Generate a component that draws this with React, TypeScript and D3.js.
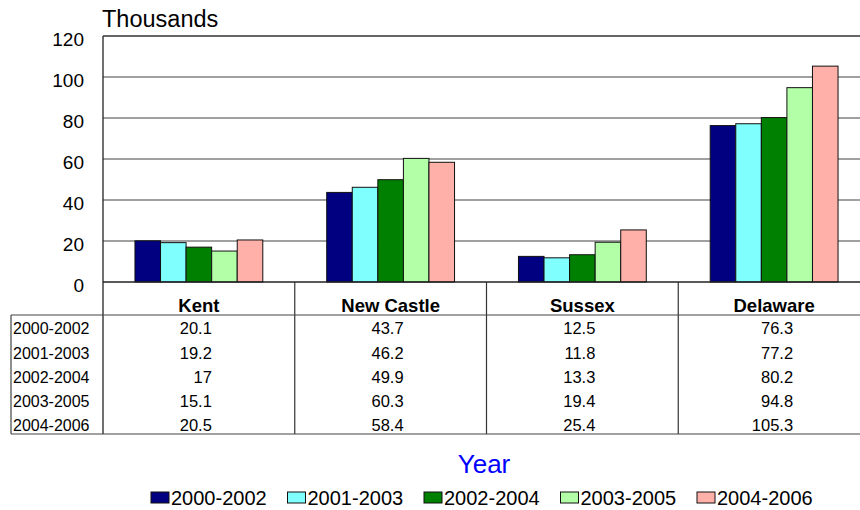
import React from "react";
import * as d3 from "d3";

const categories = ["Kent", "New Castle", "Sussex", "Delaware"];
const seriesNames = ["2000-2002", "2001-2003", "2002-2004", "2003-2005", "2004-2006"];
const s2000_2002 = [20.1, 43.7, 12.5, 76.3];
const s2001_2003 = [19.2, 46.2, 11.8, 77.2];
const s2002_2004 = [17, 49.9, 13.3, 80.2];
const s2003_2005 = [15.1, 60.3, 19.4, 94.8];
const s2004_2006 = [20.5, 58.4, 25.4, 105.3];
const seriesValues = [s2000_2002, s2001_2003, s2002_2004, s2003_2005, s2004_2006];
const seriesColors = ["#000080", "#80ffff", "#008000", "#b3ffa8", "#ffb0a8"];
const yTicks = [0, 20, 40, 60, 80, 100, 120];

const FONT = "'Liberation Sans', Arial, Helvetica, sans-serif";

export default function App() {
  const W = 860, H = 510;
  const left = 103, right = 870, top = 36, bottom = 282;
  const tableLeft = 11;
  const headerBottom = 315;
  const tableBottom = 434;
  const rowBaselines = [334, 358.5, 383, 407, 431];

  const y = d3.scaleLinear().domain([0, 120]).range([bottom, top]);
  const x = d3.scaleBand<string>().domain(categories).range([left, right]).paddingInner(0).paddingOuter(0);
  const xs = d3.scaleBand<string>().domain(seriesNames).range([0, x.bandwidth()]).paddingInner(0).paddingOuter(1.25);

  const legendX = d3.scaleLinear().domain([0, 4]).range([151, 697]);

  return (
    <svg width={W} height={H} style={{ position: "absolute", left: 0, top: 0, background: "#fff" }} fontFamily={FONT}>
      <rect x={0} y={0} width={W} height={H} fill="#fff" />
      {/* gridlines */}
      {yTicks.filter((t) => t !== 0 && t !== 120).map((t) => (
        <line key={t} x1={left} x2={right} y1={y(t)} y2={y(t)} stroke="#808080" strokeWidth={1.3} />
      ))}
      <line x1={left} x2={right} y1={y(120)} y2={y(120)} stroke="#333" strokeWidth={1.5} />
      {/* bars */}
      {seriesNames.map((s, si) =>
        categories.map((c, ci) => {
          const v = seriesValues[si][ci];
          const bx = (x(c) as number) + (xs(s) as number);
          return (
            <rect key={s + c} x={bx} y={y(v)} width={xs.bandwidth()} height={y(0) - y(v)}
              fill={seriesColors[si]} stroke="#111" strokeWidth={1} />
          );
        })
      )}
      {/* y tick labels */}
      {yTicks.map((t) => (
        <text key={t} x={84} y={y(t) + 10} textAnchor="end" fontSize={19} fill="#000">{t}</text>
      ))}
      <text x={102} y={27} fontSize={23.5} fill="#000">Thousands</text>
      {/* axis + frame */}
      <line x1={left} x2={left} y1={top} y2={tableBottom} stroke="#222" strokeWidth={1.3} />
      <line x1={left} x2={right} y1={bottom} y2={bottom} stroke="#222" strokeWidth={1.3} />
      {/* table lines */}
      {categories.slice(1).map((c) => (
        <line key={c} x1={x(c) as number} x2={x(c) as number} y1={bottom} y2={tableBottom} stroke="#333" strokeWidth={1.2} />
      ))}
      <line x1={tableLeft} x2={right} y1={headerBottom} y2={headerBottom} stroke="#444" strokeWidth={1.2} />
      <line x1={tableLeft} x2={right} y1={tableBottom} y2={tableBottom} stroke="#444" strokeWidth={1.2} />
      <line x1={tableLeft} x2={tableLeft} y1={headerBottom} y2={tableBottom} stroke="#444" strokeWidth={1.2} />
      {/* header */}
      {categories.map((c) => (
        <text key={c} x={(x(c) as number) + x.bandwidth() / 2} y={312} textAnchor="middle" fontSize={18.5} fontWeight="bold" fill="#000">{c}</text>
      ))}
      {/* rows */}
      {seriesNames.map((s, si) => (
        <g key={s}>
          <text x={13} y={rowBaselines[si]} fontSize={16} fill="#000">{s}</text>
          {categories.map((c, ci) => {
            const maxChars = d3.max(seriesValues, (arr) => String(arr[ci]).length) as number;
            const ax = (x(c) as number) + x.bandwidth() / 2 + 6 * maxChars - 11;
            return (
              <text key={c} x={ax} y={rowBaselines[si]} textAnchor="end" fontSize={16.5} fill="#000">{String(seriesValues[si][ci])}</text>
            );
          })}
        </g>
      ))}
      {/* axis title */}
      <text x={484} y={473} textAnchor="middle" fontSize={26} fill="#0000ff">Year</text>
      {/* legend */}
      {seriesNames.map((s, si) => (
        <g key={s}>
          <rect x={legendX(si)} y={492} width={18} height={11} fill={seriesColors[si]} stroke="#111" strokeWidth={1} />
          <text x={legendX(si) + 20} y={505} fontSize={20} fill="#000">{s}</text>
        </g>
      ))}
    </svg>
  );
}
